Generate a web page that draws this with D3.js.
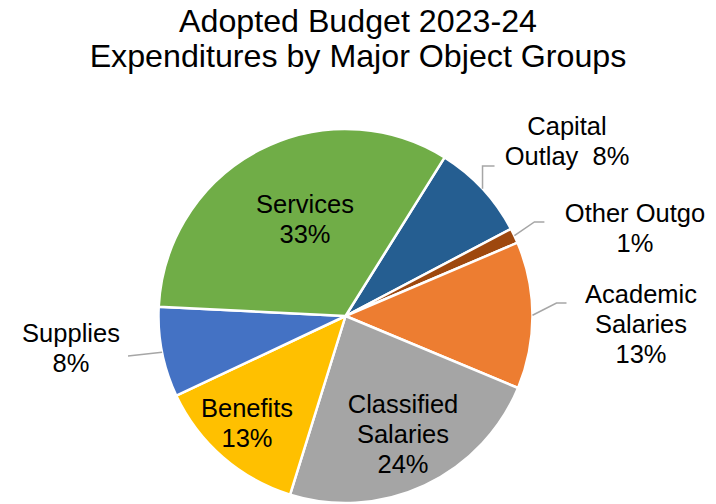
<!DOCTYPE html>
<html>
<head>
<meta charset="utf-8">
<script src="https://cdn.jsdelivr.net/npm/d3@7"></script>
<style>
  html, body { margin: 0; padding: 0; background: #fff; }
  svg { display: block; font-family: "Liberation Sans", Arial, sans-serif; }
</style>
</head>
<body>
<svg id="chart" width="716" height="504"></svg>
<script>
// ---- data ----
const categories = ["Capital Outlay", "Other Outgo", "Academic Salaries", "Classified Salaries", "Benefits", "Supplies", "Services"];
const shares = [8.4, 1.3, 12.7, 23.5, 13.2, 7.8, 33.1];
const colors = ["#255E91", "#9E480E", "#ED7D31", "#A5A5A5", "#FFC000", "#4472C4", "#70AD47"];
const labelLines = [
  ["Capital", "Outlay  {p}"],
  ["Other Outgo", "{p}"],
  ["Academic", "Salaries", "{p}"],
  ["Classified", "Salaries", "{p}"],
  ["Benefits", "{p}"],
  ["Supplies", "{p}"],
  ["Services", "{p}"]
];
const titleLines = ["Adopted Budget 2023-24", "Expenditures by Major Object Groups"];

// ---- layout ----
const W = 716, H = 504;
const cx = 345.5, cy = 316, R = 187;
const startDeg = 32;
const fontSize = 25.5, lineH = 30;

const svg = d3.select("#chart");

svg.append("g").selectAll("text").data(titleLines).join("text")
  .attr("x", 358).attr("y", (d, i) => 32 + i * 35)
  .attr("text-anchor", "middle")
  .attr("font-size", 32.2)
  .attr("fill", "#000")
  .text(d => d);

const data = categories.map((c, i) => ({ name: c, value: shares[i], color: colors[i], lines: labelLines[i] }));
const pie = d3.pie().value(d => d.value).sort(null)
  .startAngle(startDeg * Math.PI / 180)
  .endAngle(startDeg * Math.PI / 180 + 2 * Math.PI);
const arcs = pie(data);
const arc = d3.arc().innerRadius(0).outerRadius(R);

const g = svg.append("g").attr("transform", `translate(${cx},${cy})`);
g.selectAll("path").data(arcs).join("path")
  .attr("d", arc)
  .attr("fill", d => d.data.color)
  .attr("stroke", "#fff")
  .attr("stroke-width", 2.5)
  .attr("stroke-linejoin", "round");

// label placement (block centre relative to pie centre) and leader lines
function polar(angle, r) { return [Math.sin(angle) * r, -Math.cos(angle) * r]; }
const place = {
  "Capital Outlay":     { text: [221.5, -175], leader: (p) => [p, [p[0], -150], [p[0] + 12, -150]] },
  "Other Outgo":        { text: [289.5, -88], leader: (p) => [p, [p[0] + 20, -94], [p[0] + 30, -94]] },
  "Academic Salaries":  { text: [295.5, 8], leader: (p) => [p, [p[0] + 24, -13], [p[0] + 34, -13]] },
  "Classified Salaries":{ text: [57.5, 118] },
  "Benefits":           { text: [-98.5, 107] },
  "Supplies":           { text: [-274.5, 32], leader: (p) => [p, [-217.5, 40]] },
  "Services":           { text: [-40.5, -97.5] }
};

arcs.forEach(a => {
  const cfg = place[a.data.name];
  const mid = (a.startAngle + a.endAngle) / 2;
  const pct = Math.round(a.data.value) + "%";
  const lines = a.data.lines.map(s => s.replace("{p}", pct));
  if (cfg.leader) {
    const p = polar(mid, R);
    g.append("path")
      .attr("d", d3.line()(cfg.leader(p)))
      .attr("fill", "none")
      .attr("stroke", "#A6A6A6")
      .attr("stroke-width", 1.5);
  }
  const [tx, ty] = cfg.text;
  const n = lines.length;
  const t = g.append("text")
    .attr("text-anchor", "middle")
    .attr("font-size", fontSize)
    .attr("fill", "#000");
  lines.forEach((s, i) => {
    t.append("tspan")
      .attr("x", tx)
      .attr("y", ty + (i - (n - 1) / 2) * lineH + fontSize * 0.36)
      .attr("xml:space", "preserve")
      .text(s);
  });
});
</script>
</body>
</html>
